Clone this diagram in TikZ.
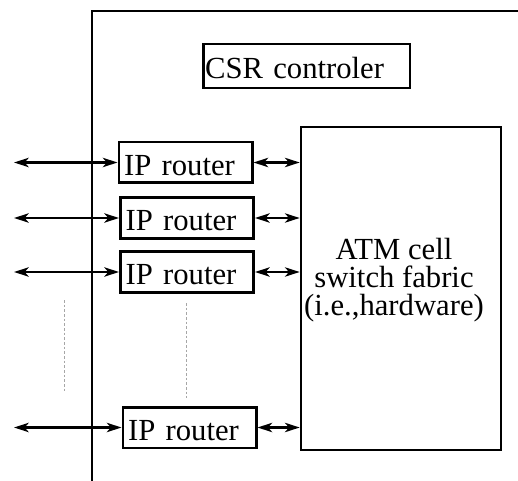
\documentclass[tikz,border=0pt]{standalone}
\usepackage{fontspec}
\setmainfont{Liberation Serif}
\usetikzlibrary{arrows.meta}

\begin{document}
\begin{tikzpicture}[x=0.75pt,y=-0.75pt,line width=2pt,
		router/.style={draw,rectangle,minimum width=100pt,minimum height=30.5pt,
			inner xsep=4pt,inner ysep=0pt,text width=92pt,align=left,
			text height=19pt,text depth=0pt,font=\fontsize{23}{20}\selectfont},
		link/.style={line width=1.7pt,{Stealth[length=11pt,width=7pt,inset=3pt]}-{Stealth[length=11pt,width=7pt,inset=3pt]}},
		dots/.style={gray!70,line width=0.4pt,dash pattern=on 2pt off 1.5pt}]
	\useasboundingbox (0,0) rectangle (518,481);
	\draw (92,481) -- (92,11) -- (518,11);
	\node[draw,rectangle,minimum width=155pt,minimum height=33pt,inner xsep=1.5pt,inner ysep=0pt,
		text width=152pt,align=left,text height=19.5pt,text depth=0pt,
		font=\fontsize{23}{20}\selectfont] (csr) at (306.5,66) {CSR controler};
	\node[draw,rectangle,minimum width=150pt,minimum height=242pt] (atm) at (401,288.5) {};
	\node[align=center,font=\fontsize{23}{21}\selectfont] (atmtext) at (394,280)
		{ATM cell\\switch fabric\\(i.e.,hardware)};
	\node[router] (r1) at (185.5,162.5) {IP router};
	\node[router] (r2) at (187,218) {IP router};
	\node[router] (r3) at (187,272) {IP router};
	\node[router] (r4) at (189.5,427.5) {IP router};
	\coordinate (edge) at (14,0);
	\foreach \r in {r1,r2,r3,r4}{
		\draw[link] (\r.west -| edge) -- (\r.west);
		\draw[link] (\r.east) -- (\r.east -| atm.west);
	}
	\draw[dots] (64,300) -- (64,393);
	\draw[dots] (186,303) -- (186,398);
\end{tikzpicture}
\end{document}
